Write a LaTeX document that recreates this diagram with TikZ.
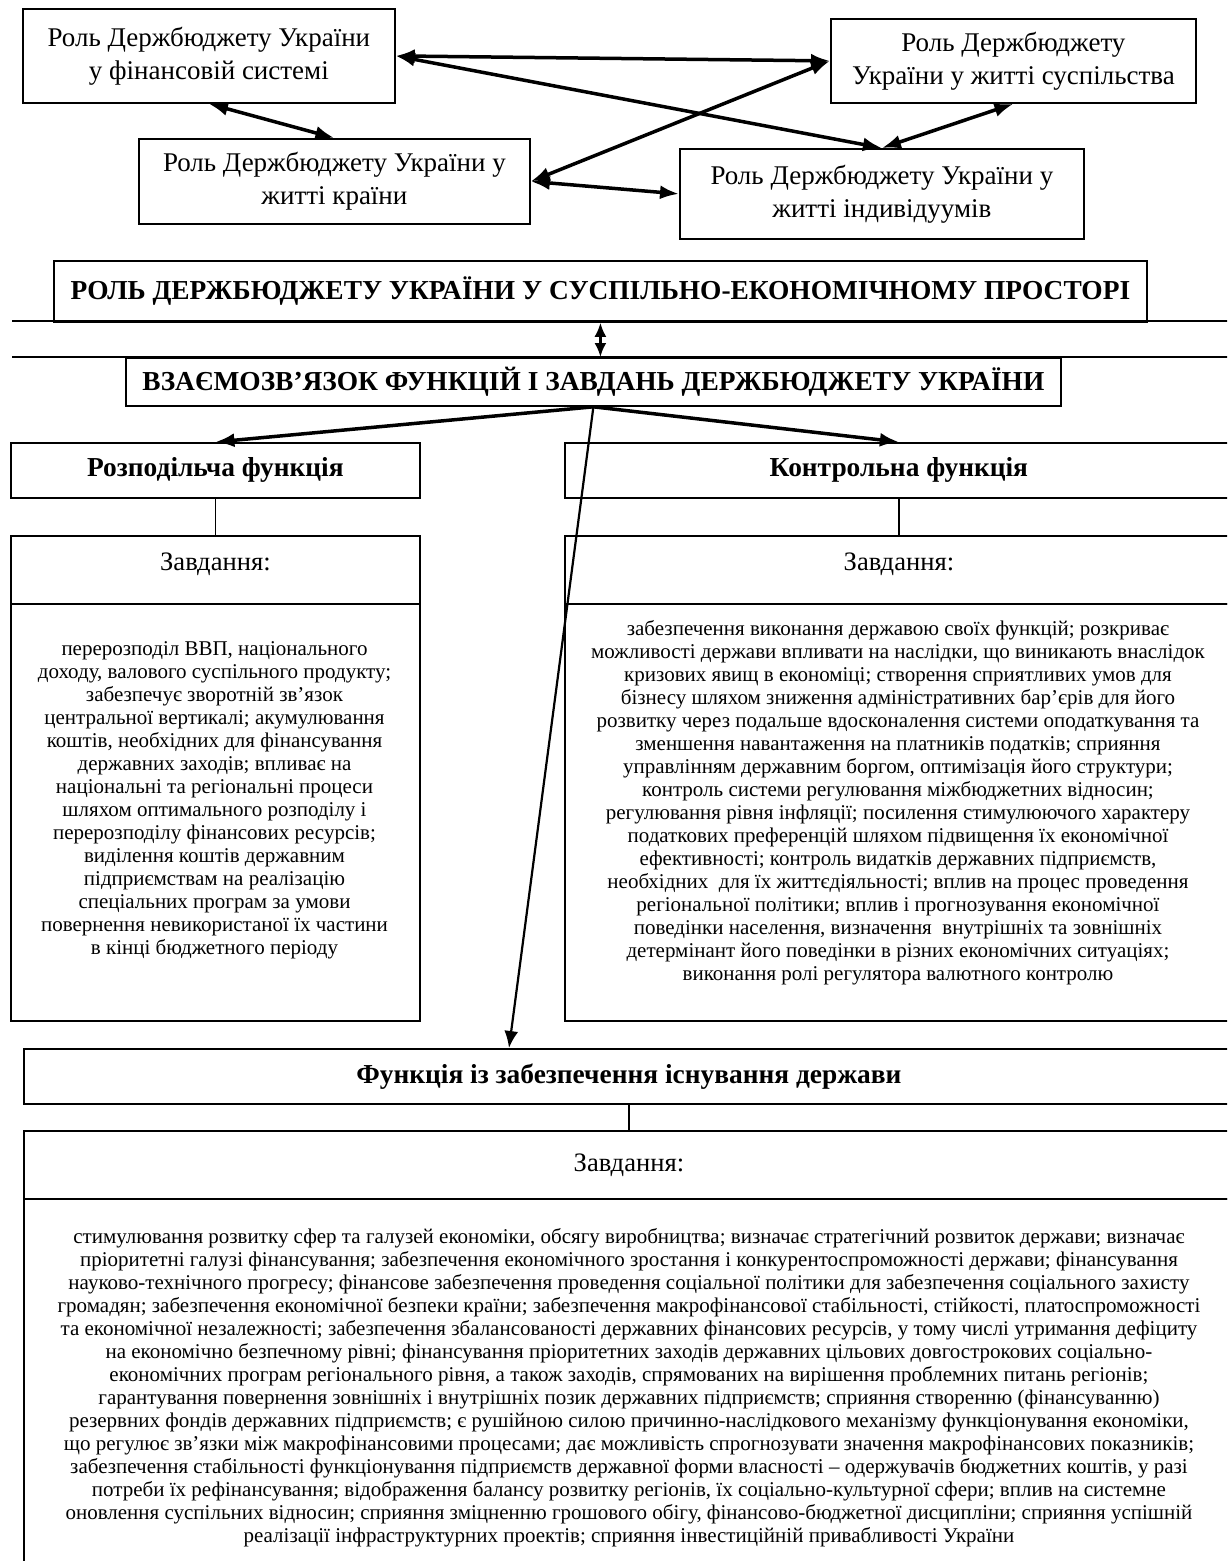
\documentclass[tikz,border=0pt]{standalone}
\usepackage{fontspec}
\setmainfont{Liberation Serif}
\usetikzlibrary{arrows.meta,calc}
\begin{document}
\begin{tikzpicture}[x=1pt,y=-1pt,
  box/.style={draw, line width=1.8pt, anchor=north west, inner sep=0pt, align=center},
  rolebox/.style={box, font=\fontsize{27}{33}\selectfont},
  headbox/.style={box, font=\bfseries\fontsize{27.4}{31}\selectfont},
  zavdbox/.style={box, font=\fontsize{26.6}{30}\selectfont},
  bodytext/.style={align=center, inner sep=0pt, font=\fontsize{21}{23}\selectfont},
  biarrow/.style={line width=3.5pt, {Latex[length=19pt,width=14pt]}-{Latex[length=19pt,width=14pt]}},
  smallbi/.style={line width=2.5pt, {Latex[length=14pt,width=12pt]}-{Latex[length=14pt,width=12pt]}},
  onearrow/.style={line width=3.5pt, -{Latex[length=19pt,width=14pt]}},
  thinarrow/.style={line width=2.2pt, -{Latex[length=17pt,width=14pt]}},
  conn/.style={line width=1.5pt},
  rule/.style={line width=2pt},
]
\useasboundingbox (0,0) rectangle (1227,1561);
\clip (0,0) rectangle (1227,1561);
\fill[white] (0,0) rectangle (1227,1561);

% top role boxes
\node[rolebox, minimum width=372pt, minimum height=94pt] (A) at (22,8) {Роль Держбюджету України\\у фінансовій системі};
\node[rolebox, minimum width=365pt, minimum height=84pt] (B) at (830,18) {Роль Держбюджету\\України у житті суспільства};
\node[rolebox, minimum width=391pt, minimum height=85pt] (C) at (138,138) {Роль Держбюджету України у\\житті країни};
\node[rolebox, minimum width=404pt, minimum height=90pt] (D) at (679,148) {Роль Держбюджету України у\\житті індивідуумів};

\draw[biarrow] (A.east) -- (B.west);
\draw[biarrow] (A.east) -- (D.north);
\draw[biarrow] (C.east) -- (B.west);
\draw[biarrow] (C.east) -- (D.west);
\draw[biarrow] (A.south) -- (C.north);
\draw[biarrow] (B.south) -- (D.north);

% titles
\node[headbox, minimum width=1093pt, minimum height=61pt] (T1) at (53,260) {РОЛЬ ДЕРЖБЮДЖЕТУ УКРАЇНИ У СУСПІЛЬНО-ЕКОНОМІЧНОМУ ПРОСТОРІ};
\coordinate (h1l) at (12,321);
\coordinate (h1r) at (1230,321);
\coordinate (h2l) at (12,357);
\coordinate (h2r) at (1230,357);
\draw[rule] (h1l) -- (h1r);
\draw[rule] (h2l) -- (h2r);
\node[headbox, minimum width=935pt, minimum height=48pt] (T2) at (125,357) {ВЗАЄМОЗВ’ЯЗОК ФУНКЦІЙ І ЗАВДАНЬ ДЕРЖБЮДЖЕТУ УКРАЇНИ};
\draw[smallbi] (T1.south) -- (T1.south |- h2l);

% left column
\node[headbox, minimum width=409pt, minimum height=55pt] (R) at (10,442) {Розподільча функція};
\node[zavdbox, minimum width=409pt, minimum height=68pt, text depth=16pt] (ZL) at (10,535) {Завдання:};
\node[box, minimum width=409pt, minimum height=417pt] (TL) at (10,603) {};
\node[bodytext] (TLt) at (214.5,800.5) {перерозподіл ВВП, національного\\доходу, валового суспільного продукту;\\забезпечує зворотній зв’язок\\центральної вертикалі; акумулювання\\коштів, необхідних для фінансування\\державних заходів; впливає на\\національні та регіональні процеси\\шляхом оптимального розподілу і\\перерозподілу фінансових ресурсів;\\виділення коштів державним\\підприємствам на реалізацію\\спеціальних програм за умови\\повернення невикористаної їх частини\\в кінці бюджетного періоду};
\draw[conn] (R.south) -- (ZL.north);

% right column
\node[headbox, minimum width=668pt, minimum height=55pt] (K) at (564,442) {Контрольна функція};
\node[zavdbox, minimum width=668pt, minimum height=68pt, text depth=16pt] (ZR) at (564,535) {Завдання:};
\node[box, minimum width=668pt, minimum height=417pt] (TR) at (564,603) {};
\node[bodytext] (TRt) at (898,802.5) {забезпечення виконання державою своїх функцій; розкриває\\можливості держави впливати на наслідки, що виникають внаслідок\\кризових явищ в економіці; створення сприятливих умов для\\бізнесу шляхом зниження адміністративних бар’єрів для його\\розвитку через подальше вдосконалення системи оподаткування та\\зменшення навантаження на платників податків; сприяння\\управлінням державним боргом, оптимізація його структури;\\контроль системи регулювання міжбюджетних відносин;\\регулювання рівня інфляції; посилення стимулюючого характеру\\податкових преференцій шляхом підвищення їх економічної\\ефективності; контроль видатків державних підприємств,\\необхідних\ \ для їх життєдіяльності; вплив на процес проведення\\регіональної політики; вплив і прогнозування економічної\\поведінки населення, визначення\ \ внутрішніх та зовнішніх\\детермінант його поведінки в різних економічних ситуаціях;\\виконання ролі регулятора валютного контролю};
\draw[conn] (K.south) -- (ZR.north);

% bottom
\node[headbox, minimum width=1210pt, minimum height=55pt] (F) at (23,1048) {Функція із забезпечення існування держави};
\node[zavdbox, minimum width=1210pt, minimum height=68pt] (ZB) at (23,1130) {Завдання:};
\node[box, minimum width=1210pt, minimum height=420pt] (TB) at (23,1198) {};
\node[bodytext] (TBt) at (629,1387.5) {стимулювання розвитку сфер та галузей економіки, обсягу виробництва; визначає стратегічний розвиток держави; визначає\\пріоритетні галузі фінансування; забезпечення економічного зростання і конкурентоспроможності держави; фінансування\\науково-технічного прогресу; фінансове забезпечення проведення соціальної політики для забезпечення соціального захисту\\громадян; забезпечення економічної безпеки країни; забезпечення макрофінансової стабільності, стійкості, платоспроможності\\та економічної незалежності; забезпечення збалансованості державних фінансових ресурсів, у тому числі утримання дефіциту\\на економічно безпечному рівні; фінансування пріоритетних заходів державних цільових довгострокових соціально-\\економічних програм регіонального рівня, а також заходів, спрямованих на вирішення проблемних питань регіонів;\\гарантування повернення зовнішніх і внутрішніх позик державних підприємств; сприяння створенню (фінансуванню)\\резервних фондів державних підприємств; є рушійною силою причинно-наслідкового механізму функціонування економіки,\\що регулює зв’язки між макрофінансовими процесами; дає можливість спрогнозувати значення макрофінансових показників;\\забезпечення стабільності функціонування підприємств державної форми власності – одержувачів бюджетних коштів, у разі\\потреби їх рефінансування; відображення балансу розвитку регіонів, їх соціально-культурної сфери; вплив на системне\\оновлення суспільних відносин; сприяння зміцненню грошового обігу, фінансово-бюджетної дисципліни; сприяння успішній\\реалізації інфраструктурних проектів; сприяння інвестиційній привабливості України};
\draw[conn] (F.south) -- (ZB.north);

% arrows from the central title
\coordinate (Ftip) at ($(F.north west)+(486,0)$);
\draw[onearrow] (T2.south) -- (R.north);
\draw[onearrow] (T2.south) -- (K.north);
\draw[thinarrow] (T2.south) -- (Ftip);
\end{tikzpicture}
\end{document}
